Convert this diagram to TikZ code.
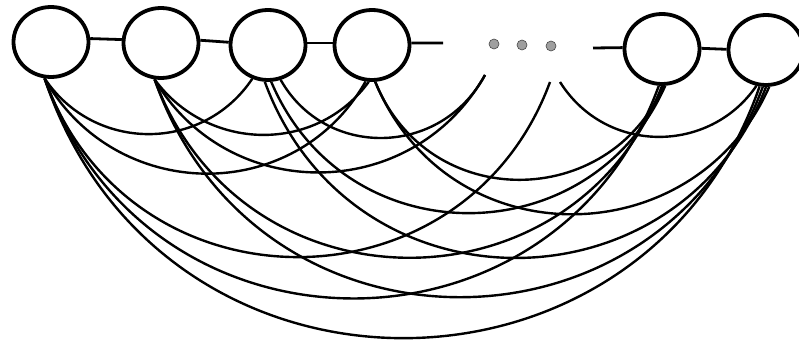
\documentclass[tikz,border=0pt]{standalone}
\usetikzlibrary{shapes.geometric}
\tikzset{
  vtx/.style={ellipse, draw, line width=3.8pt, minimum width=75pt, minimum height=70pt, inner sep=0pt},
  arcline/.style={line width=2.4pt},
  link/.style={line width=2.8pt},
  dotnode/.style={circle, fill=gray!75, draw=gray!55!black, line width=0.6pt, minimum size=10pt, inner sep=0pt}
}
\newcommand\myarc[5]{\draw[arcline] (#1) .. controls +(#3,#4) and +(-#3,#5) .. (#2);}
\begin{document}
\begin{tikzpicture}[x=1pt,y=-1pt]
\useasboundingbox (0,0) rectangle (799,345);
\node[vtx] (A) at (51,42) {};
\node[vtx] (B) at (161,43) {};
\node[vtx] (C) at (268,45) {};
\node[vtx] (D) at (372,45) {};
\node[vtx] (E) at (662,49) {};
\node[vtx] (F) at (766,50) {};
\node[dotnode] (d1) at (494,44) {};
\node[dotnode] (d2) at (522,45) {};
\node[dotnode] (d3) at (551,46) {};
\coordinate (ds) at (443,43);
\coordinate (es) at (593,48);
\coordinate (s1) at (485,75);
\coordinate (s2) at (550,82);
\coordinate (s3) at (560,82);
% chain
\draw[link] (A.5) -- (B.175);
\draw[link] (B.4) -- (C.176);
\draw[link] (C.3) -- (D.177);
\draw[link] (D.3) -- (ds);
\draw[link] (es) -- (E.178);
\draw[link] (E.1) -- (F.179);
% arcs from A
\myarc{A.-100}{C.-115}{49.6}{74}{74}
\myarc{A.-100}{D.-100}{70.3}{125}{125}
\myarc{A.-100}{s2}{85.8}{238.7}{233}
\myarc{A.-100}{E.-95}{103}{293}{284}
\myarc{A.-100}{F.-100}{116}{347}{335}
% arcs from B
\myarc{B.-100}{D.-95}{53}{72.4}{72.4}
\myarc{B.-100}{s1}{73.5}{124.7}{129.3}
\myarc{B.-100}{E.-90}{88.6}{238}{229}
\myarc{B.-100}{F.-95}{102}{291}{280}
% arcs from C
\myarc{C.-70}{s1}{44.5}{78.7}{82.7}
\myarc{C.-85}{E.-85}{74.6}{176}{169}
\myarc{C.-95}{F.-90}{86.9}{236}{227}
% arcs from D
\myarc{D.-85}{E.-88}{53.4}{132}{124}
\myarc{D.-85}{F.-85}{74}{178.7}{168}
% arc from the dots
\myarc{s3}{F.-105}{46.3}{73.3}{68}
\end{tikzpicture}
\end{document}
